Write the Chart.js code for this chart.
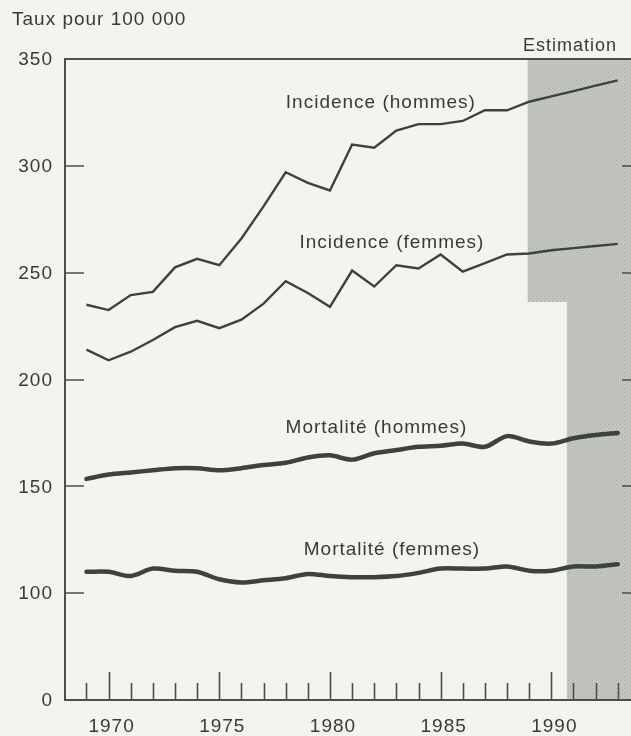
<!DOCTYPE html>
<html lang="fr">
<head>
<meta charset="utf-8">
<title>Taux pour 100 000</title>
<script src="https://cdn.jsdelivr.net/npm/chart.js@4/dist/chart.umd.min.js"></script>
<style>
  html, body { margin: 0; padding: 0; background: #f4f4ef; }
  #chart { display: block; }
</style>
</head>
<body>
<canvas id="chart" width="631" height="736"></canvas>
<script>
const years = [1969, 1970, 1971, 1972, 1973, 1974, 1975, 1976, 1977, 1978, 1979, 1980,
  1981, 1982, 1983, 1984, 1985, 1986, 1987, 1988, 1989, 1990, 1991, 1992, 1993];

const incidenceHommes = [235, 232.5, 239.5, 241, 252.5, 256.5, 253.5, 266, 281, 297, 292, 288.5,
  310, 308.5, 316.5, 319.5, 319.5, 321, 326, 326, 330, 332.5, 335, 337.5, 340];
const incidenceFemmes = [214, 209, 213, 218.5, 224.5, 227.5, 224, 228, 235.5, 246, 240.5, 234,
  251, 243.5, 253.5, 252, 258.5, 250.5, 254.5, 258.5, 259, 260.5, 261.5, 262.5, 263.5];
const mortaliteHommes = [153.5, 155.5, 156.5, 157.5, 158.5, 158.5, 157.5, 158.5, 160, 161, 163.5, 164.5,
  162.5, 165.5, 167, 168.5, 169, 170, 168.5, 173.5, 171, 170, 172.5, 174, 175];
const mortaliteFemmes = [110, 110, 108, 111.5, 110.5, 110, 106.5, 105, 106, 107, 109, 108,
  107.5, 107.5, 108, 109.5, 111.5, 111.5, 111.5, 112.5, 110.5, 110.5, 112.5, 112.5, 113.5];

// axe coupé : le "0" est dessiné à la place de 50
const yTickValues = [50, 100, 150, 200, 250, 300, 350];
const yTickLabels = ['0', '100', '150', '200', '250', '300', '350'];
const xLabelYears = [1970, 1975, 1980, 1985, 1990];

const seriesLabels = [
  { text: 'Incidence (hommes)', x: 1982.3, y: 329.5 },
  { text: 'Incidence (femmes)', x: 1982.8, y: 264 },
  { text: 'Mortalité (hommes)', x: 1982.1, y: 177.3 },
  { text: 'Mortalité (femmes)', x: 1982.8, y: 120.2 },
];

// zone "Estimation" (deux blocs)
const estimationBlocks = [
  { from: 1988.93, to: 1993.6, top: 350, bottom: 236.3 },
  { from: 1990.7, to: 1993.6, top: 236.3, bottom: 50 },
];

const ink = '#3a443d';
const textInk = '#383a37';
const font = '19px "Liberation Sans", Arial, sans-serif';

const toPoints = (values) => values.map((v, i) => ({ x: years[i], y: v }));

function stipple(ctx) {
  const c = document.createElement('canvas');
  c.width = 4;
  c.height = 4;
  const p = c.getContext('2d');
  p.fillStyle = '#c3c5c1';
  p.fillRect(0, 0, 4, 4);
  p.fillStyle = '#a7a9a5';
  p.fillRect(0, 0, 1, 1);
  p.fillRect(2, 2, 1, 1);
  return ctx.createPattern(c, 'repeat');
}

const paperPlugin = {
  id: 'paper',
  beforeDraw(chart) {
    const { ctx, width, height } = chart;
    ctx.save();
    ctx.fillStyle = '#f4f4ef';
    ctx.fillRect(0, 0, width, height);
    ctx.restore();
  },
  beforeDatasetsDraw(chart) {
    const { ctx, scales: { x, y } } = chart;
    ctx.save();
    ctx.fillStyle = stipple(ctx);
    estimationBlocks.forEach((b) => {
      const left = x.getPixelForValue(b.from);
      const right = x.getPixelForValue(b.to);
      const top = y.getPixelForValue(b.top);
      const bottom = y.getPixelForValue(b.bottom);
      ctx.fillRect(left, top, right - left, bottom - top);
    });
    ctx.restore();
  },
};

const axesPlugin = {
  id: 'axes',
  afterDatasetsDraw(chart) {
    const { ctx, chartArea: a, scales: { x, y } } = chart;
    ctx.save();
    ctx.strokeStyle = '#4a4f49';
    ctx.lineWidth = 2;
    ctx.beginPath();
    ctx.moveTo(a.right, a.top);
    ctx.lineTo(a.left, a.top);
    ctx.lineTo(a.left, a.bottom);
    ctx.lineTo(a.right, a.bottom);
    ctx.stroke();

    ctx.lineWidth = 1.6;
    ctx.beginPath();
    yTickValues.slice(1, -1).forEach((v) => {
      const py = Math.round(y.getPixelForValue(v));
      ctx.moveTo(a.left, py);
      ctx.lineTo(a.left + 19, py);
      ctx.moveTo(a.right, py);
      ctx.lineTo(a.right - 9, py);
    });
    years.forEach((yr) => {
      const px = Math.round(x.getPixelForValue(yr)) + 0.5;
      const len = yr % 5 === 0 ? 28 : 17;
      ctx.moveTo(px, a.bottom);
      ctx.lineTo(px, a.bottom - len);
    });
    ctx.stroke();

    ctx.fillStyle = textInk;
    ctx.font = font;
    ctx.letterSpacing = '1px';
    ctx.textBaseline = 'middle';
    ctx.textAlign = 'right';
    yTickValues.forEach((v, i) => {
      ctx.fillText(yTickLabels[i], 53, y.getPixelForValue(v) + 1);
    });
    ctx.textAlign = 'center';
    xLabelYears.forEach((yr) => {
      ctx.fillText(String(yr), x.getPixelForValue(yr) + 3, 727);
    });
    seriesLabels.forEach((l) => {
      ctx.fillText(l.text, x.getPixelForValue(l.x), y.getPixelForValue(l.y));
    });

    ctx.textAlign = 'left';
    ctx.fillText('Taux pour 100 000', 12, 20);
    ctx.font = '18px "Liberation Sans", Arial, sans-serif';
    ctx.fillText('Estimation', 523, 46);
    ctx.restore();
  },
};

const thin = { borderColor: ink, borderWidth: 2.4, pointRadius: 0, tension: 0, fill: false };
const thick = { borderColor: ink, borderWidth: 4.5, pointRadius: 0, tension: 0.3, fill: false, borderCapStyle: 'round' };

new Chart(document.querySelector('#chart'), {
  type: 'line',
  data: {
    datasets: [
      { label: 'Incidence (hommes)', data: toPoints(incidenceHommes), ...thin },
      { label: 'Incidence (femmes)', data: toPoints(incidenceFemmes), ...thin },
      { label: 'Mortalité (hommes)', data: toPoints(mortaliteHommes), ...thick },
      { label: 'Mortalité (femmes)', data: toPoints(mortaliteFemmes), ...thick },
    ],
  },
  options: {
    responsive: false,
    animation: false,
    layout: { padding: { left: 65, right: 0, top: 59, bottom: 36 } },
    plugins: { legend: { display: false }, tooltip: { enabled: false } },
    scales: {
      x: { type: 'linear', min: 1968.03, max: 1993.6, display: false },
      y: { type: 'linear', min: 50, max: 350, display: false },
    },
  },
  plugins: [paperPlugin, axesPlugin],
});
</script>
</body>
</html>
